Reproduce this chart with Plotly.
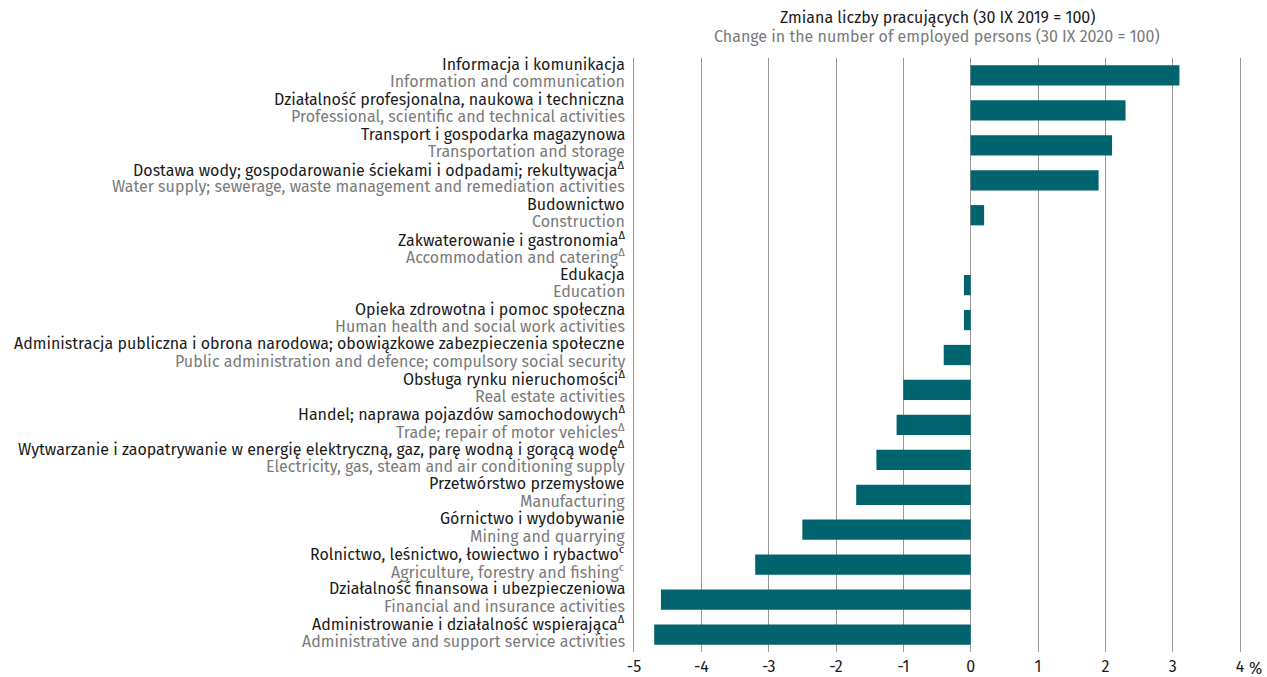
import plotly.graph_objects as go

labels_pl = [
    "Informacja i komunikacja",
    "Działalność profesjonalna, naukowa i techniczna",
    "Transport i gospodarka magazynowa",
    "Dostawa wody; gospodarowanie ściekami i odpadami; rekultywacja<sup>Δ</sup>",
    "Budownictwo",
    "Zakwaterowanie i gastronomia<sup>Δ</sup>",
    "Edukacja",
    "Opieka zdrowotna i pomoc społeczna",
    "Administracja publiczna i obrona narodowa; obowiązkowe zabezpieczenia społeczne",
    "Obsługa rynku nieruchomości<sup>Δ</sup>",
    "Handel; naprawa pojazdów samochodowych<sup>Δ</sup>",
    "Wytwarzanie i zaopatrywanie w energię elektryczną, gaz, parę wodną i gorącą wodę<sup>Δ</sup>",
    "Przetwórstwo przemysłowe",
    "Górnictwo i wydobywanie",
    "Rolnictwo, leśnictwo, łowiectwo i rybactwo<sup>c</sup>",
    "Działalność finansowa i ubezpieczeniowa",
    "Administrowanie i działalność wspierająca<sup>Δ</sup>",
]
labels_en = [
    "Information and communication",
    "Professional, scientific and technical activities",
    "Transportation and storage",
    "Water supply; sewerage, waste management and remediation activities",
    "Construction",
    "Accommodation and catering<sup>Δ</sup>",
    "Education",
    "Human health and social work activities",
    "Public administration and defence; compulsory social security",
    "Real estate activities",
    "Trade; repair of motor vehicles<sup>Δ</sup>",
    "Electricity, gas, steam and air conditioning supply",
    "Manufacturing",
    "Mining and quarrying",
    "Agriculture, forestry and fishing<sup>c</sup>",
    "Financial and insurance activities",
    "Administrative and support service activities",
]
values = [3.1, 2.3, 2.1, 1.9, 0.2, 0.0, -0.1, -0.1, -0.4, -1.0, -1.1, -1.4, -1.7, -2.5, -3.2, -4.6, -4.7]
tick_vals = [-5, -4, -3, -2, -1, 0, 1, 2, 3, 4]
tick_text = ["-5", "-4", "-3", "-2", "-1", "0", "1", "2", "3", "4"]
unit_label = "%"
title_pl = "Zmiana liczby pracujących (30 IX 2019 = 100)"
title_en = "Change in the number of employed persons (30 IX 2020 = 100)"

FONT = "Fira Sans, Roboto, sans-serif"
DARK = "#1a1a1a"
GREY = "#7a7a7a"
GRID = "#999999"

cats = list(range(len(values)))

fig = go.Figure(go.Bar(
    x=values, y=cats, orientation="h", width=0.58,
    marker=dict(color="#00646e", line=dict(width=0)),
    hoverinfo="skip",
))

ann = []
for i, (pl, en) in enumerate(zip(labels_pl, labels_en)):
    ann.append(dict(xref="paper", yref="y", x=-0.012, y=i, yshift=11, text=pl,
                    xanchor="right", yanchor="middle", showarrow=False,
                    font=dict(family=FONT, size=16, color=DARK)))
    ann.append(dict(xref="paper", yref="y", x=-0.012, y=i, yshift=-6.5, text=en,
                    xanchor="right", yanchor="middle", showarrow=False,
                    font=dict(family=FONT, size=16, color=GREY)))
ann.append(dict(xref="paper", yref="paper", x=0.5, y=1, yshift=40, text=title_pl,
                xanchor="center", yanchor="middle", showarrow=False,
                font=dict(family=FONT, size=16, color=DARK)))
ann.append(dict(xref="paper", yref="paper", x=0.5, y=1, yshift=22, text=title_en,
                xanchor="center", yanchor="middle", showarrow=False,
                font=dict(family=FONT, size=16, color=GREY)))
ann.append(dict(xref="x", yref="paper", x=tick_vals[-1], y=0, xshift=7, yshift=-16,
                text=unit_label, xanchor="left", yanchor="middle", showarrow=False,
                font=dict(family=FONT, size=16, color=DARK)))

fig.update_layout(
    width=1267, height=677,
    margin=dict(l=634, r=27, t=58, b=25, autoexpand=False),
    paper_bgcolor="white", plot_bgcolor="white",
    showlegend=False,
    annotations=ann,
    font=dict(family=FONT, size=16, color=DARK),
    xaxis=dict(range=[-5, 4], tickvals=tick_vals, ticktext=tick_text,
               showgrid=True, gridcolor=GRID, gridwidth=1,
               zeroline=True, zerolinecolor=GRID, zerolinewidth=1,
               showline=False, ticks="", ticklabelstandoff=3,
               tickfont=dict(size=16, color=DARK)),
    yaxis=dict(range=[len(values) - 0.5, -0.5], showticklabels=False,
               showgrid=False, zeroline=False, ticks="",
               showline=True, mirror=True, linecolor=GRID, linewidth=1),
)

# remove the default 8px page margin so the figure fills the window exactly
fig.write_html("out.html", config={"displayModeBar": False},
               post_script="document.body.style.margin='0';")
